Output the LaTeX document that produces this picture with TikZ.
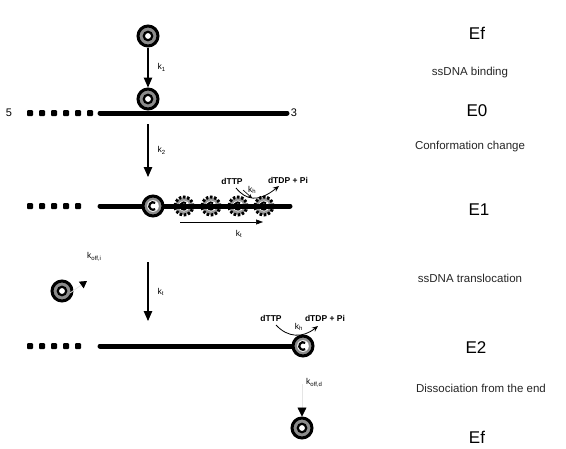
\documentclass[tikz,border=0pt]{standalone}
\usepackage{fontspec}
\setmainfont{Liberation Sans}
\usetikzlibrary{arrows.meta}

\begin{document}
\begin{tikzpicture}[x=1pt,y=-1pt,
  ring/.style={circle, inner sep=0pt, minimum size=20pt, draw=black, line width=3pt, fill=black!45,
    path picture={\fill[black] (path picture bounding box.center) circle (5.4pt);
                  \fill[white] (path picture bounding box.center) circle (2.9pt);}},
  cring/.style={circle, inner sep=0pt, minimum size=20pt, draw=black, line width=3pt, fill=black!45,
    path picture={\fill[white] (path picture bounding box.center) circle (5.8pt);
                  \draw[black, line width=2.2pt] (path picture bounding box.center) ++(55:3.8pt)
                     arc[start angle=55, end angle=305, radius=3.8pt];}},
  gear/.style={circle, inner sep=0pt, minimum size=18pt, draw=black, line width=3pt,
    dash pattern=on 2.4pt off 1.8pt, fill=black!40,
    path picture={\fill[white] (path picture bounding box.center) circle (5.5pt);}},
  dnadot/.style={rectangle, rounded corners=1pt, fill=black, inner sep=0pt, minimum size=6pt},
  dna/.style={line width=5pt, line cap=round},
  conn/.style={line width=1.1pt, -{Triangle[length=10pt,width=8.5pt]}},
  thin/.style={line width=0.8pt, -{Stealth[length=6pt,width=5pt]}},
  state/.style={font=\fontsize{17}{17}\selectfont, inner sep=0pt},
  desc/.style={font=\fontsize{11.5}{11.5}\selectfont, inner sep=0pt, text=black!85},
  rate/.style={font=\fontsize{8.5}{8.5}\selectfont, inner sep=0pt},
  nuc/.style={font=\bfseries\fontsize{8.5}{8.5}\selectfont, inner sep=0pt},
  end/.style={font=\fontsize{11}{11}\selectfont, inner sep=0pt}]
\useasboundingbox[fill=white] (0,0) rectangle (566,448);

% ---- free enzyme ----
\node[ring] (ef1) at (148,36) {};
\node[state] (sEf1) at (477,33) {Ef};

% ---- E0: bound to ssDNA ----
\node[end] (p5) at (9,113) {5};
\foreach \i in {0,...,5} \node[dnadot] (d0\i) at (30+12*\i,113) {};
\coordinate (l0a) at (100,113);
\coordinate (l0b) at (287,113);
\draw[dna] (l0a) -- (l0b);
\node[end] (p3) at (294,113) {3};
\node[ring] (e0) at (148,99) {};
\node[state] (sE0) at (477,111) {E0};

\draw[conn] (ef1) -- (e0) node[rate, midway, right=9pt] (r1) {k\textsubscript{1}};
\node[desc] (t1) at (470,73) {ssDNA binding};

% ---- E1: conformation change, stepping ----
\foreach \i in {0,...,4} \node[dnadot] (d1\i) at (30+12*\i,206) {};
\coordinate (l1a) at (100,206);
\coordinate (l1b) at (290,206);
\node[gear] (g1) at (184,206) {};
\node[gear] (g2) at (211,206) {};
\node[gear] (g3) at (238,206) {};
\node[gear] (g4) at (264,206) {};
\draw[dna] (l1a) -- (l1b);
\node[cring] (e1) at (153,206) {};
\foreach \g in {g1,g2,g3,g4}
  \draw[black, line width=2pt] (\g.center) ++(55:3.6pt) arc[start angle=55, end angle=305, radius=3.6pt];
\node[state] (sE1) at (479,210) {E1};

\draw[conn] (148,124) -- (148,177) node[rate, midway, right=9pt] (r2) {k\textsubscript{2}};
\node[desc] (t2) at (470,147) {Conformation change};

\node[nuc] (ttp1) at (232,181) {dTTP};
\node[nuc] (tdp1) at (288,180) {dTDP + Pi};
\draw[thin] (236,188) .. controls (246,200) and (258,203) .. (279,186);
\draw[line width=0.6pt, -{Stealth[length=4pt,width=3.5pt]}] (243,190) -- (252,198);
\node[rate, anchor=west] (rh1) at (248,190) {k\textsubscript{h}};
\coordinate (st1) at (180,222);
\coordinate (st2) at (263,222);
\draw[line width=0.6pt, -{Triangle[length=7pt,width=5pt]}] (st1) -- (st2);
\node[rate] (rt1) at (239,234) {k\textsubscript{t}};

% ---- dissociation from internal sites ----
\node[ring] (ef2) at (62,291) {};
\coordinate (off1) at (70,293);
\draw[line width=0.8pt, draw=black!10, -{Triangle[black,length=7pt,width=8pt]}] (off1) -- (87,281);
\node[rate, anchor=west] (roff1) at (87,257) {k\textsubscript{off,i}};

% ---- E2: translocated to the 3' end ----
\foreach \i in {0,...,4} \node[dnadot] (d2\i) at (30+12*\i,346) {};
\coordinate (l2a) at (100,346);
\coordinate (l2b) at (295,346);
\draw[dna] (l2a) -- (l2b);
\node[cring] (e2) at (303,346) {};
\node[state] (sE2) at (476,348) {E2};

\draw[conn] (148,262) -- (148,321) node[rate, midway, right=9pt] (r3) {k\textsubscript{t}};
\node[desc] (t3) at (470,278) {ssDNA translocation};

\node[nuc] (ttp2) at (271,318) {dTTP};
\node[nuc] (tdp2) at (325,318) {dTDP + Pi};
\draw[thin] (276,325) .. controls (288,338) and (303,338) .. (318,326);
\node[rate] (rh2) at (299,327) {k\textsubscript{h}};

% ---- dissociation from the end ----
\node[ring] (ef3) at (302,428) {};
\draw[line width=0.8pt, draw=black!10, -{Triangle[black,length=9pt,width=9pt]}] (302,384) -- (ef3.north);
\node[rate, anchor=west] (roff2) at (306,383) {k\textsubscript{off,d}};
\node[desc] (t4) at (481,388) {Dissociation from the end};
\node[state] (sEf2) at (477,437) {Ef};
\end{tikzpicture}
\end{document}
